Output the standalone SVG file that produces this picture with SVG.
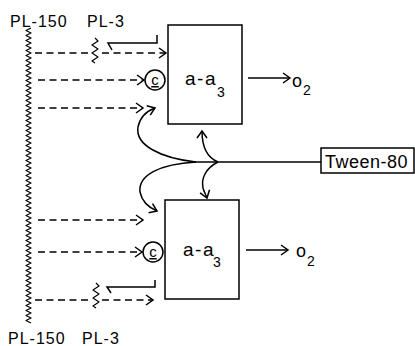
<svg xmlns="http://www.w3.org/2000/svg" width="415" height="346" viewBox="0 0 415 346">
<style>
text{font-family:"Liberation Sans",Arial,sans-serif;fill:#000}
.lbl{font-size:16px;letter-spacing:1px}
.box{fill:#fff;stroke:#000;stroke-width:1.5}
.ln{fill:none;stroke:#000;stroke-width:1.5}
.zz{fill:none;stroke:#000;stroke-width:1.2;stroke-linejoin:round}
.dash{fill:none;stroke:#000;stroke-width:1.5;stroke-dasharray:7 4.5}
.aa{font-size:19px;letter-spacing:1.5px}
.sub{font-size:14px}
</style>
<defs>
<marker id="ah" markerUnits="userSpaceOnUse" markerWidth="12" markerHeight="12" refX="7" refY="5" orient="auto" overflow="visible">
<path d="M0,0 L7,5 L0,10" fill="none" stroke="#000" stroke-width="1.5" stroke-dasharray="none"/>
</marker>
</defs>
<g id="labels">
<text class="lbl" x="10" y="27">PL-150</text>
<text class="lbl" x="87" y="27">PL-3</text>
<text class="lbl" x="8" y="344">PL-150</text>
<text class="lbl" x="82" y="344">PL-3</text>
</g>
<g id="pl150">
<path class="zz" d="M31,28 l-5,2.5 5,2.5 -5,2.5 5,2.5 -5,2.5 5,2.5 -5,2.5 5,2.5 -5,2.5 5,2.5 -5,2.5 5,2.5 -5,2.5 5,2.5 -5,2.5 5,2.5 -5,2.5 5,2.5 -5,2.5 5,2.5
 -5,2.5 5,2.5 -5,2.5 5,2.5 -5,2.5 5,2.5 -5,2.5 5,2.5 -5,2.5 5,2.5 -5,2.5 5,2.5 -5,2.5 5,2.5 -5,2.5 5,2.5 -5,2.5 5,2.5 -5,2.5 5,2.5
 -5,2.5 5,2.5 -5,2.5 5,2.5 -5,2.5 5,2.5 -5,2.5 5,2.5 -5,2.5 5,2.5 -5,2.5 5,2.5 -5,2.5 5,2.5 -5,2.5 5,2.5 -5,2.5 5,2.5 -5,2.5 5,2.5
 -5,2.5 5,2.5 -5,2.5 5,2.5 -5,2.5 5,2.5 -5,2.5 5,2.5 -5,2.5 5,2.5 -5,2.5 5,2.5 -5,2.5 5,2.5 -5,2.5 5,2.5 -5,2.5 5,2.5 -5,2.5 5,2.5
 -5,2.5 5,2.5 -5,2.5 5,2.5 -5,2.5 5,2.5 -5,2.5 5,2.5 -5,2.5 5,2.5 -5,2.5 5,2.5 -5,2.5 5,2.5 -5,2.5 5,2.5 -5,2.5 5,2.5 -5,2.5 5,2.5
 -5,2.5 5,2.5 -5,2.5 5,2.5 -5,2.5 5,2.5 -5,2.5 5,2.5 -5,2.5 5,2.5 -5,2.5 5,2.5 -5,2.5 5,2.5 -5,2.5 5,2.5 -5,2.5 5,2.5"/>
</g>
<g id="pl3-top">
<path class="zz" d="M95,38 l3,3 -6,4 6,4 -6,4 6,4 -6,4 3,2"/>
</g>
<g id="pl3-bottom">
<path class="zz" d="M96,283 l3,3 -6,4 6,4 -6,4 6,4 -6,4 3,2"/>
</g>
<g id="box-top">
<rect class="box" x="168" y="25" width="74" height="99"/>
<text class="aa" x="185" y="85">a-a</text>
<text class="sub" x="217" y="97">3</text>
</g>
<g id="box-bottom">
<rect class="box" x="165" y="200" width="74" height="99"/>
<text class="aa" x="183" y="256">a-a</text>
<text class="sub" x="213" y="267">3</text>
</g>
<g id="c-top">
<circle class="ln" cx="155" cy="80" r="10"/>
<text x="155" y="85" font-size="15" text-anchor="middle" text-decoration="underline">c</text>
</g>
<g id="c-bottom">
<circle class="ln" cx="153" cy="252" r="10"/>
<text x="153" y="257" font-size="15" text-anchor="middle" text-decoration="underline">c</text>
</g>
<g id="o2-top">
<text x="292" y="87" font-size="18">o</text>
<text x="303" y="95" class="sub">2</text>
</g>
<g id="o2-bottom">
<text x="296" y="257" font-size="18">o</text>
<text x="307" y="266" class="sub">2</text>
</g>
<g id="tween">
<rect class="box" x="321" y="148" width="93" height="25"/>
<text x="325" y="168" font-size="18" letter-spacing="0.5">Tween-80</text>
</g>
<g id="connectors">
<path class="dash" d="M35,53 H90"/>
<path class="dash" d="M102,53 H166" marker-end="url(#ah)"/>
<path class="dash" d="M38,80 H144" marker-end="url(#ah)"/>
<path class="dash" d="M38,108 H143" marker-end="url(#ah)"/>
<path class="dash" d="M38,220 H143" marker-end="url(#ah)"/>
<path class="dash" d="M38,252 H142" marker-end="url(#ah)"/>
<path class="dash" d="M35,300 H90"/>
<path class="dash" d="M102,300 H153" marker-end="url(#ah)"/>
<path class="ln" d="M157,35 V43 H108 l4,7"/>
<path class="ln" d="M155,280 V287 H107 l4,6"/>
<path class="ln" d="M248,78 H290" marker-end="url(#ah)"/>
<path class="ln" d="M246,250 H288" marker-end="url(#ah)"/>
<path class="ln" d="M321,162 H190"/>
<path class="ln" d="M196,162 C160,158 135,145 138,127 C140,117 147,111 155,108" marker-end="url(#ah)"/>
<path class="ln" d="M196,162 C160,164 138,175 140,192 C142,202 150,208 157,211" marker-end="url(#ah)"/>
<path class="ln" d="M218,162 C208,158 202,148 202,131" marker-end="url(#ah)"/>
<path class="ln" d="M218,162 C206,168 201,178 203,188 C204,192 206,195 207,198" marker-end="url(#ah)"/>
</g>
</svg>
